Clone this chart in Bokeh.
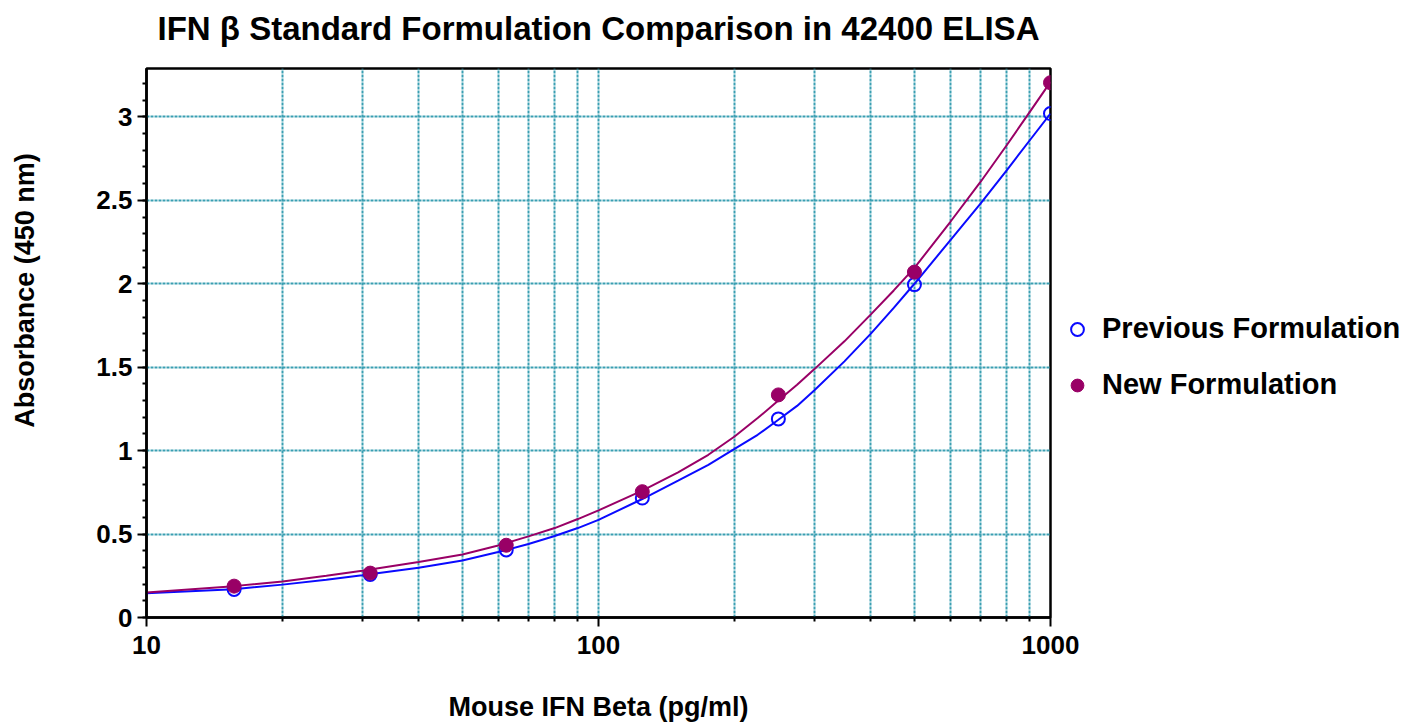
from bokeh.plotting import figure
from bokeh.layouts import row
from bokeh.models import (FixedTicker, NumeralTickFormatter, Legend, LegendItem, Range1d,
                          LogAxis)
from bokeh.embed import file_html
from bokeh.resources import INLINE
from bokeh.core.properties import value
import math

# ---- data ----
conc = [15.625, 31.25, 62.5, 125, 250, 500, 1000]
prev_abs = [0.168, 0.258, 0.405, 0.716, 1.19, 1.995, 3.02]
new_abs = [0.188, 0.266, 0.433, 0.754, 1.334, 2.07, 3.205]

curve_x = [10, 15.6, 20, 25, 30, 40, 50, 60, 70, 80, 90, 100, 125, 150, 175, 200,
           225, 250, 275, 300, 350, 400, 450, 500, 600, 700, 800, 900, 1000]
prev_curve = [0.145, 0.17, 0.197, 0.226, 0.253, 0.298, 0.342, 0.392, 0.44, 0.488,
              0.536, 0.585, 0.71, 0.82, 0.915, 1.01, 1.095, 1.185, 1.268, 1.36,
              1.535, 1.70, 1.855, 2.0, 2.26, 2.48, 2.68, 2.86, 3.02]
new_curve = [0.15, 0.188, 0.216, 0.25, 0.28, 0.332, 0.378, 0.432, 0.486, 0.536,
             0.59, 0.642, 0.76, 0.87, 0.975, 1.085, 1.195, 1.30, 1.395, 1.487,
             1.655, 1.815, 1.96, 2.095, 2.37, 2.61, 2.83, 3.03, 3.21]

x_ticks = [10, 100, 1000]
x_minor_ticks = [20, 30, 40, 50, 60, 70, 80, 90, 200, 300, 400, 500, 600, 700, 800, 900]
y_ticks = [0, 0.5, 1, 1.5, 2, 2.5, 3]
y_minor_ticks = [round(0.1 * i, 1) for i in range(0, 33)]

title_text = "IFN \u03b2 Standard Formulation Comparison in 42400 ELISA"
x_label = "Mouse IFN Beta (pg/ml)"
y_label = "Absorbance (450 nm)"
series_names = ["Previous Formulation", "New Formulation"]

# ---- styles / layout constants ----
BLUE = "#0a0aff"
PURPLE = "#990066"
GRID = "#3a9fb2"
FONT = "Liberation Sans"
FRAME_W, FRAME_H = 904, 549
TOP, BOTTOM = 68, 105
LABEL_W = 48
Y_LABEL_CENTER = 1.96   # vertical centre of the y-axis title, in axis units

y_range = Range1d(0, 3.29)

# narrow strip carrying the y-axis title
lab = figure(width=LABEL_W, height=TOP + FRAME_H + BOTTOM, frame_width=LABEL_W,
             frame_height=FRAME_H, min_border_left=0, min_border_right=0,
             min_border_top=TOP, min_border_bottom=BOTTOM,
             x_range=Range1d(0, 1), y_range=y_range, x_axis_location=None,
             y_axis_location=None, output_backend="svg", toolbar_location=None)
lab.grid.visible = False
lab.outline_line_color = None
lab.text(x=[0.5], y=[Y_LABEL_CENTER], text=[y_label], angle=math.pi / 2,
         text_align="center", text_baseline="middle", text_font=value(FONT),
         text_font_size="27px", text_font_style="bold", text_color="black")

p = figure(x_axis_type="log", x_range=Range1d(10, 1000), y_range=y_range,
           frame_width=FRAME_W, frame_height=FRAME_H,
           min_border_left=146 - LABEL_W, min_border_top=TOP, min_border_bottom=BOTTOM,
           min_border_right=0, output_backend="svg", toolbar_location=None,
           title=None)

p.outline_line_color = "black"
p.outline_line_width = 2.5

xa = p.below[0]
ya = p.left[0]

# chart title, carried by a tick-less axis above the frame
top_ax = LogAxis(ticker=FixedTicker(ticks=[], minor_ticks=[]), axis_label=title_text,
                 axis_line_color=None, major_tick_out=0, minor_tick_out=0,
                 major_tick_in=0, minor_tick_in=0, major_label_standoff=0,
                 major_label_text_font_size="0px", major_label_text_color=None,
                 major_tick_line_color=None, minor_tick_line_color=None,
                 axis_label_standoff=22)
top_ax.axis_label_text_font = FONT
top_ax.axis_label_text_font_size = "33px"
top_ax.axis_label_text_font_style = "bold"
top_ax.axis_label_text_color = "black"
p.add_layout(top_ax, "above")

# axes
xa.ticker = FixedTicker(ticks=x_ticks, minor_ticks=x_minor_ticks)
ya.ticker = FixedTicker(ticks=y_ticks, minor_ticks=y_minor_ticks)
xa.formatter = NumeralTickFormatter(format="0")
ya.formatter = NumeralTickFormatter(format="0.[0]")
for ax in (xa, ya):
    ax.axis_line_width = 2.5
    ax.axis_line_color = "black"
    ax.major_tick_in = 0
    ax.minor_tick_in = 0
    ax.major_tick_line_width = 2
    ax.minor_tick_line_width = 2
    ax.major_tick_line_color = "black"
    ax.minor_tick_line_color = "black"
    ax.major_label_text_font = FONT
    ax.major_label_text_font_size = "26px"
    ax.major_label_text_font_style = "bold"
    ax.major_label_text_color = "black"
xa.major_tick_out = 9
xa.minor_tick_out = 4
ya.major_tick_out = 9
ya.minor_tick_out = 4
xa.major_label_standoff = 9
ya.major_label_standoff = 5

xa.axis_label = x_label
xa.axis_label_text_font = FONT
xa.axis_label_text_font_size = "27px"
xa.axis_label_text_font_style = "bold"
xa.axis_label_text_color = "black"
xa.axis_label_standoff = 35

# grids (follow the bottom axis ticker)
for g in (p.xgrid, p.ygrid):
    g.grid_line_color = GRID
    g.grid_line_dash = "3 1"
    g.grid_line_width = 2
p.xgrid.ticker = xa.ticker
p.xgrid.minor_grid_line_color = GRID
p.xgrid.minor_grid_line_dash = "3 1"
p.xgrid.minor_grid_line_width = 2

# curves and points
p.line(curve_x, prev_curve, line_color=BLUE, line_width=2)
p.line(curve_x, new_curve, line_color=PURPLE, line_width=2)
r_prev = p.scatter(conc, prev_abs, marker="circle", size=13, fill_color=None,
                   line_color=BLUE, line_width=2)
r_new = p.scatter(conc, new_abs, marker="circle", size=14, fill_color=PURPLE,
                  line_color=PURPLE, line_width=1)

legend = Legend(items=[LegendItem(label=series_names[0], renderers=[r_prev]),
                       LegendItem(label=series_names[1], renderers=[r_new])],
                location=(2, 216), margin=0, padding=0, spacing=23,
                glyph_width=50, glyph_height=32, label_height=32, label_standoff=0,
                border_line_color=None, background_fill_alpha=0)
legend.label_text_font = FONT
legend.label_text_font_size = "29px"
legend.label_text_font_style = "bold"
legend.label_text_color = "black"
p.add_layout(legend, "right")

layout = row(lab, p)
open("out.html", "w").write(file_html(layout, INLINE))
